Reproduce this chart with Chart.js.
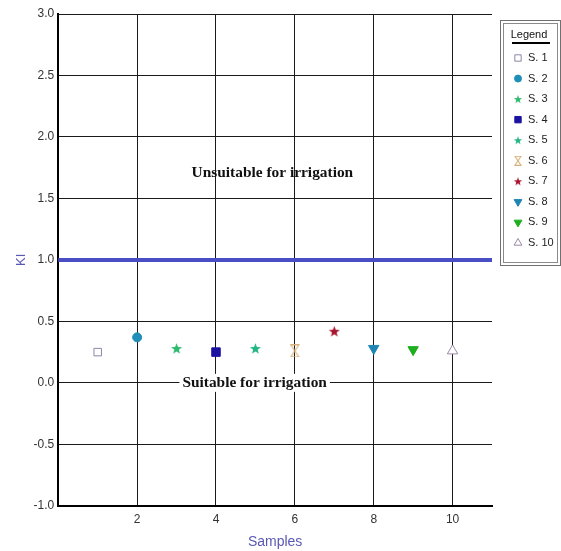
<!DOCTYPE html>
<html>
<head>
<meta charset="utf-8">
<script src="https://cdn.jsdelivr.net/npm/chart.js@4/dist/chart.umd.min.js"></script>
<style>
    html, body { margin: 0; padding: 0; background: #fff; }
    #contenedor { position: relative; width: 561px; height: 551px; }
</style>
</head>
<body>
<div id="contenedor"><canvas id="graficaKI"></canvas></div>
<script>
'use strict';

// ── Datos ─────────────────────────────────────────────
const muestras = ['S. 1', 'S. 2', 'S. 3', 'S. 4', 'S. 5', 'S. 6', 'S. 7', 'S. 8', 'S. 9', 'S. 10'];
const posicionMuestra = [1, 2, 3, 4, 5, 6, 7, 8, 9, 10];
const valoresKI = [0.25, 0.37, 0.28, 0.25, 0.28, 0.26, 0.42, 0.28, 0.27, 0.26];
const ticksMuestras = [2, 4, 6, 8, 10];
const limiteKI = 1.0;

// Estilo de cada marca (forma, color, relleno)
const formas = ['cuadro', 'circulo', 'estrella', 'cuadro', 'estrella', 'reloj', 'estrella', 'trianguloAbajo', 'trianguloAbajo', 'triangulo'];
const colores = ['#8a86a8', '#1f8fb8', '#2dba6e', '#1a12a0', '#24b485', '#d8b07a', '#a8142e', '#1f86b4', '#1fae1f', '#9a88a8'];
const rellenos = [false, true, true, true, true, false, true, true, true, false];

const azulEjes = '#5a58b4';
const fuenteSans = '"Liberation Sans", Arial, sans-serif';
const fuenteSerif = '"Liberation Serif", "Times New Roman", serif';

// Marcas personalizadas (estrella rellena y reloj de arena)
function crearMarca(forma, color, escala) {
    const c = document.createElement('canvas');
    const t = Math.ceil(13 * escala);
    c.width = t; c.height = t;
    const g = c.getContext('2d');
    const m = t / 2;
    if (forma === 'estrella') {
        g.beginPath();
        for (let i = 0; i < 10; i++) {
            const r = (i % 2 === 0 ? 5.8 : 2.4) * escala;
            const a = -Math.PI / 2 + i * Math.PI / 5;
            const px = m + r * Math.cos(a);
            const py = m + 0.5 * escala + r * Math.sin(a);
            if (i === 0) g.moveTo(px, py); else g.lineTo(px, py);
        }
        g.closePath();
        g.fillStyle = color;
        g.fill();
    } else if (forma === 'reloj') {
        const w = 4 * escala, h = 6 * escala;
        g.beginPath();
        g.moveTo(m - w, m - h);
        g.lineTo(m + w, m - h);
        g.lineTo(m - w, m + h);
        g.lineTo(m + w, m + h);
        g.closePath();
        g.strokeStyle = color;
        g.lineWidth = 1.1;
        g.stroke();
    }
    return c;
}

function estiloPunto(i, escala) {
    const f = formas[i];
    if (f === 'estrella' || f === 'reloj') return crearMarca(f, colores[i], escala);
    if (f === 'cuadro') return 'rect';
    if (f === 'circulo') return 'circle';
    return 'triangle';
}

function radioPunto(i) {
    if (formas[i] === 'circulo') return 4.5;
    if (formas[i] === 'cuadro') return i === 0 ? 5.3 : 6;
    return 6;
}

const datasetsMuestras = muestras.map((nombre, i) => ({
    type: 'scatter',
    label: nombre,
    data: [{ x: posicionMuestra[i], y: valoresKI[i] }],
    pointStyle: estiloPunto(i, 1),
    pointRotation: formas[i] === 'trianguloAbajo' ? 180 : 0,
    pointRadius: radioPunto(i),
    pointBackgroundColor: rellenos[i] ? colores[i] : '#ffffff',
    pointBorderColor: colores[i],
    pointBorderWidth: 1,
    pointHoverRadius: radioPunto(i)
}));

const datasetLimite = {
    type: 'line',
    label: 'Límite',
    data: [{ x: 0, y: limiteKI }, { x: 11, y: limiteKI }],
    borderColor: '#4a4ec4',
    borderWidth: 4,
    pointRadius: 0,
    clip: false
};

// ── Rótulos de zonas ─────────────────────────────────
const rotulos = [
    { texto: 'Unsuitable for irrigation', x: 5.43, y: 1.71, fondo: false },
    { texto: 'Suitable for irrigation', x: 4.98, y: 0.0, fondo: true }
];

const pluginRotulos = {
    id: 'rotulos',
    afterDatasetsDraw(chart) {
        const { ctx, scales } = chart;
        ctx.save();
        ctx.font = 'bold 15.4px ' + fuenteSerif;
        ctx.textAlign = 'center';
        ctx.textBaseline = 'middle';
        rotulos.forEach(r => {
            const px = scales.x.getPixelForValue(r.x);
            const py = scales.y.getPixelForValue(r.y);
            if (r.fondo) {
                const w = ctx.measureText(r.texto).width;
                ctx.fillStyle = '#ffffff';
                ctx.fillRect(px - w / 2 - 3, py - 9, w + 6, 18);
            }
            ctx.fillStyle = '#111';
            ctx.fillText(r.texto, px, py);
        });
        ctx.restore();
    }
};

// ── Leyenda dibujada a mano (caja con marco doble) ────
const marcasLeyenda = muestras.map((_, i) => estiloPunto(i, 0.75));

const pluginLeyenda = {
    id: 'leyendaCaja',
    afterDraw(chart) {
        const { ctx } = chart;
        const izq = 500, arriba = 20, der = 560, abajo = 265;
        ctx.save();
        ctx.lineWidth = 1;
        ctx.strokeStyle = '#707070';
        ctx.strokeRect(izq + 0.5, arriba + 0.5, der - izq, abajo - arriba);
        ctx.strokeStyle = '#8a8a8a';
        ctx.strokeRect(izq + 3.5, arriba + 3.5, der - izq - 6, abajo - arriba - 6);

        // título subrayado
        ctx.fillStyle = '#111';
        ctx.font = '11px ' + fuenteSans;
        ctx.textAlign = 'center';
        ctx.textBaseline = 'middle';
        ctx.fillText('Legend', 529, 35);
        ctx.strokeStyle = '#000';
        ctx.lineWidth = 2;
        ctx.beginPath();
        ctx.moveTo(512, 43);
        ctx.lineTo(550, 43);
        ctx.stroke();

        // elementos
        ctx.textAlign = 'left';
        muestras.forEach((nombre, i) => {
            const y = 58 + i * 20.55;
            ctx.save();
            ctx.fillStyle = rellenos[i] ? colores[i] : '#ffffff';
            ctx.strokeStyle = colores[i];
            ctx.lineWidth = 1;
            Chart.helpers.drawPoint(ctx, {
                pointStyle: marcasLeyenda[i],
                radius: formas[i] === 'circulo' ? 3.5 : 4.5,
                rotation: formas[i] === 'trianguloAbajo' ? 180 : 0,
                borderWidth: 1
            }, 518, y);
            ctx.restore();
            ctx.fillStyle = '#222';
            ctx.fillText(nombre, 528, y);
        });
        ctx.restore();
    }
};

new Chart(document.getElementById('graficaKI').getContext('2d'), {
    data: { datasets: [...datasetsMuestras, datasetLimite] },
    options: {
        responsive: true,
        maintainAspectRatio: false,
        animation: false,
        layout: { padding: { top: 14, right: 69, bottom: 0, left: 14 } },
        plugins: {
            tooltip: { enabled: false },
            legend: { display: false }
        },
        scales: {
            x: {
                type: 'linear',
                min: 0,
                max: 11,
                afterBuildTicks: eje => { eje.ticks = ticksMuestras.map(v => ({ value: v })); },
                grid: { color: '#1a1a1a', lineWidth: 1, drawTicks: false },
                border: { color: '#000', width: 2 },
                ticks: { color: '#333', font: { family: fuenteSans, size: 12 }, padding: 7 },
                title: { display: true, text: 'Samples', color: azulEjes, font: { family: fuenteSans, size: 14 }, padding: { top: 0, bottom: 0 } }
            },
            y: {
                min: -1,
                max: 3,
                ticks: {
                    stepSize: 0.5,
                    color: '#333',
                    font: { family: fuenteSans, size: 12 },
                    padding: 4,
                    callback: v => Number(v).toFixed(1)
                },
                grid: { color: '#1a1a1a', lineWidth: 1, drawTicks: false },
                border: { color: '#000', width: 2 },
                title: { display: true, text: 'KI', color: azulEjes, font: { family: fuenteSans, size: 13 }, padding: { top: 0, bottom: 0 } }
            }
        }
    },
    plugins: [pluginRotulos, pluginLeyenda]
});
</script>
</body>
</html>
